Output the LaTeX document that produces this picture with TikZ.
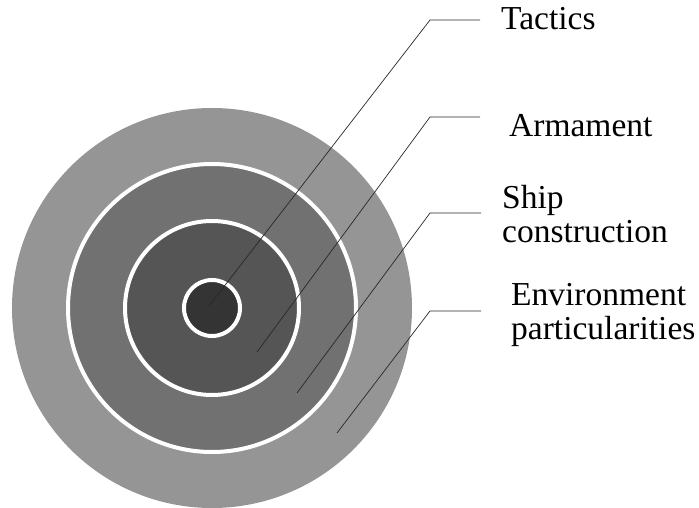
\documentclass[tikz,border=0pt]{standalone}
\usepackage{fontspec}
\setmainfont{Liberation Serif}
\usetikzlibrary{positioning}
\definecolor{CoreGray}{RGB}{52, 52, 52}
\definecolor{InnerGray}{RGB}{85, 85, 85}
\definecolor{MidGray}{RGB}{113, 113, 113}
\definecolor{OuterGray}{RGB}{149, 149, 149}
\definecolor{LeaderGray}{RGB}{40, 40, 40}

\begin{document}
\begin{tikzpicture}[
    x=1pt, y=-1pt,
    ring/.style={draw=white, line width=4pt},
    leader/.style={LeaderGray, line width=0.7pt},
    tag/.style={anchor=base west, inner sep=0pt, align=left,
      font=\fontsize{33.5}{34}\selectfont}
  ]
    \useasboundingbox (0,0) rectangle (699,508);

    % nested zones
    \fill[OuterGray] (212,308) circle (200);
    \filldraw[MidGray, ring] (212,308) circle (144);
    \filldraw[InnerGray, ring] (212,308) circle (87);
    \filldraw[CoreGray, ring] (212,308) circle (28);

    % labels (base = last line)
    \node[tag] (tactics) at (501,30) {Tactics};
    \node[tag] (armament) at (509,137) {Armament};
    \node[tag] (ship) at (502,242) {Ship\\construction};
    \node[tag] (env) at (511,339) {Environment\\particularities};

    % leader end points and bends
    \coordinate (t0) at (209,306);
    \coordinate (t1) at (430,20);
    \coordinate (t2) at (480,20);
    \coordinate (a0) at (257,352);
    \coordinate (a1) at (430,117);
    \coordinate (a2) at (480,117);
    \coordinate (s0) at (297,393);
    \coordinate (s1) at (430,213);
    \coordinate (s2) at (481,213);
    \coordinate (e0) at (337,433);
    \coordinate (e1) at (430,311);
    \coordinate (e2) at (481,311);

    \draw[leader] (t0) -- (t1) -- (t2);
    \draw[leader] (a0) -- (a1) -- (a2);
    \draw[leader] (s0) -- (s1) -- (s2);
    \draw[leader] (e0) -- (e1) -- (e2);
\end{tikzpicture}
\end{document}
